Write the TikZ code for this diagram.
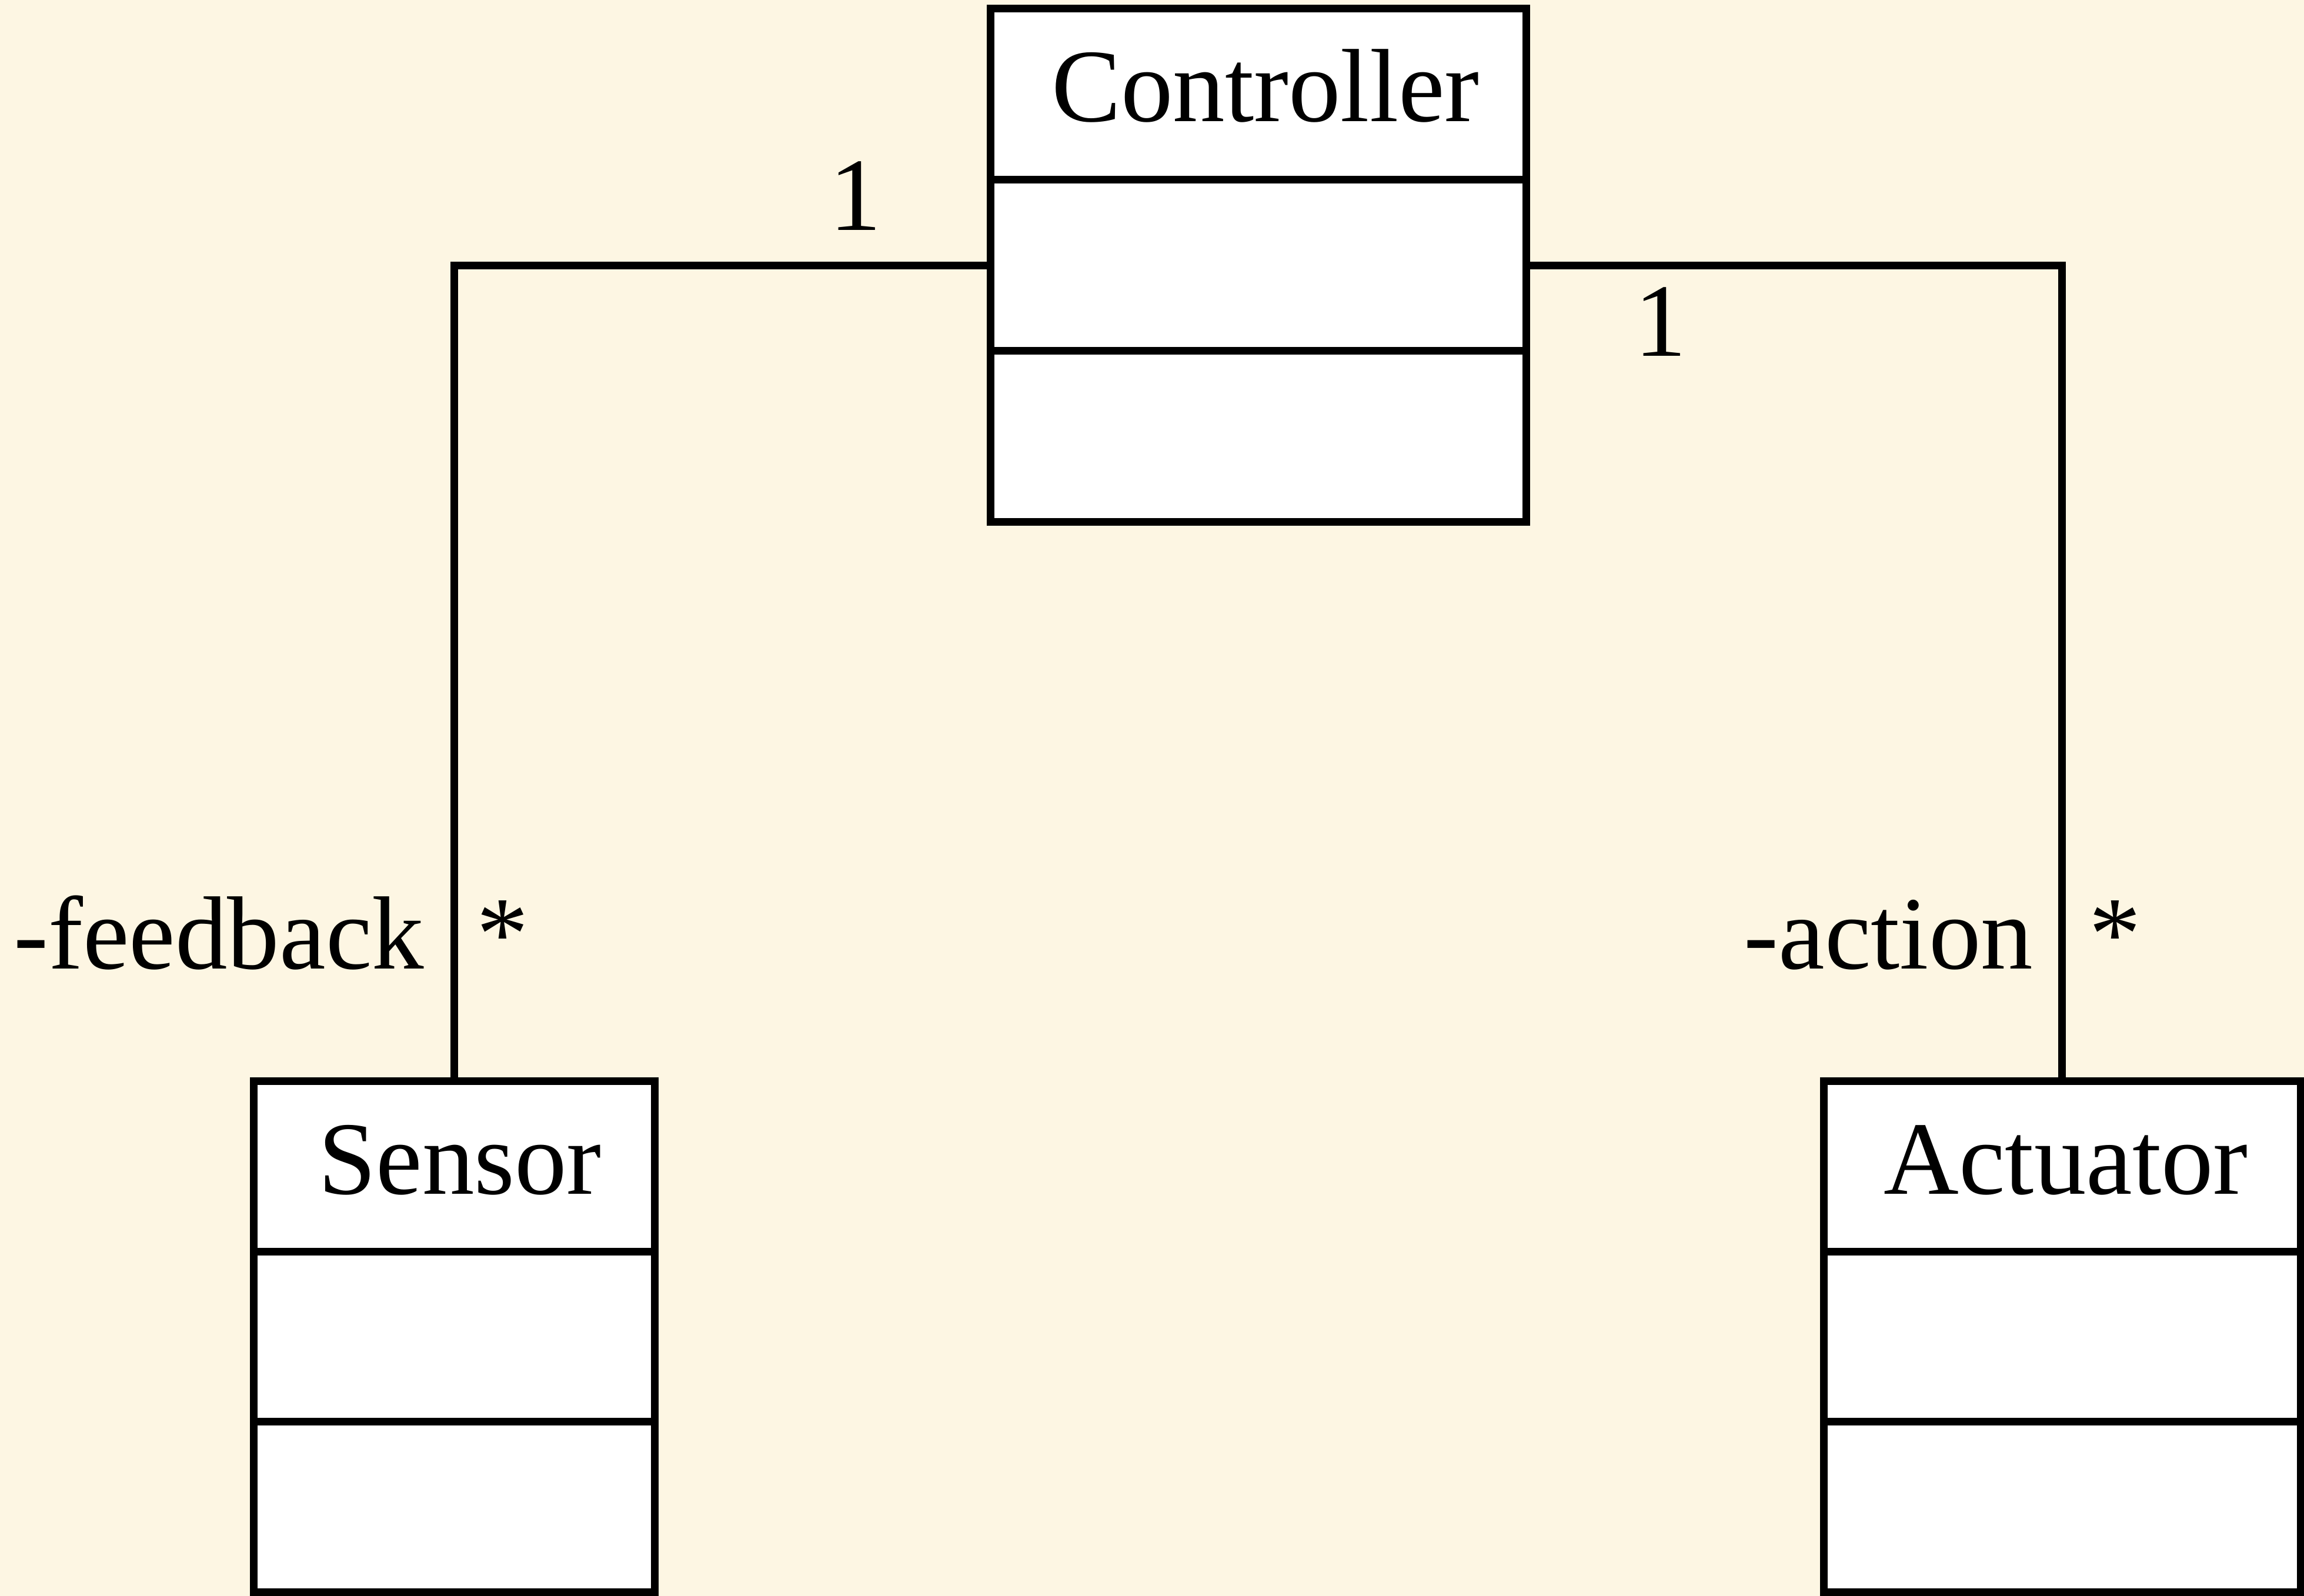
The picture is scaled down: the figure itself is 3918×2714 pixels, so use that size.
\documentclass[tikz,border=0pt]{standalone}
\usepackage{fontspec}
\setmainfont{Liberation Serif}
\usetikzlibrary{calc}
\definecolor{paper}{HTML}{FDF6E3}
\tikzset{
  classbox/.style={draw=black, fill=white, line width=1.3pt, rectangle,
    inner sep=0pt, outer sep=0pt},
  divider/.style={draw=black, line width=1.3pt},
  assoc/.style={draw=black, line width=1.3pt},
  lbl/.style={inner sep=0pt, outer sep=0pt, font=\fontsize{17.7}{20}\selectfont},
}
\begin{document}
\begin{tikzpicture}[x=0.1pt, y=-0.1pt]
  % page background
  \fill[paper] (0,0) rectangle (3918,2714);
  \useasboundingbox (0,0) rectangle (3918,2714);

  % class boxes
  \node[classbox, minimum width=91.1pt, minimum height=87.3pt] (ctrl) at (2139.5,451.5) {};
  \node[classbox, minimum width=68.3pt, minimum height=87.0pt] (sens) at (772.5,2273) {};
  \node[classbox, minimum width=81.1pt, minimum height=87.0pt] (act) at (3506.5,2273) {};

  % compartments
  \foreach \b in {ctrl, sens, act} {
    \draw[divider] ($(\b.north west)!1/3!(\b.south west)$) -- ($(\b.north east)!1/3!(\b.south east)$);
    \draw[divider] ($(\b.north west)!2/3!(\b.south west)$) -- ($(\b.north east)!2/3!(\b.south east)$);
  }

  % class names
  \node[lbl, anchor=base] (ctrlname) at (2152,207) {Controller};
  \node[lbl, anchor=base] (sensname) at (782,2031) {Sensor};
  \node[lbl, anchor=base] (actname) at (3513,2031) {Actuator};

  % associations
  \draw[assoc] (ctrl.west) -| (sens.north);
  \draw[assoc] (ctrl.east) -| (act.north);

  % multiplicities and role names
  \node[lbl, anchor=base] (mleft) at (1455,392) {1};
  \node[lbl, anchor=base] (mright) at (2824,606) {1};
  \node[lbl, anchor=base east] (rfeed) at (721,1648) {-feedback};
  \node[lbl, anchor=base west] (sfeed) at (810,1648) {*};
  \node[lbl, anchor=base east] (ract) at (3457,1648) {-action};
  \node[lbl, anchor=base west] (sact) at (3552,1648) {*};
\end{tikzpicture}
\end{document}
